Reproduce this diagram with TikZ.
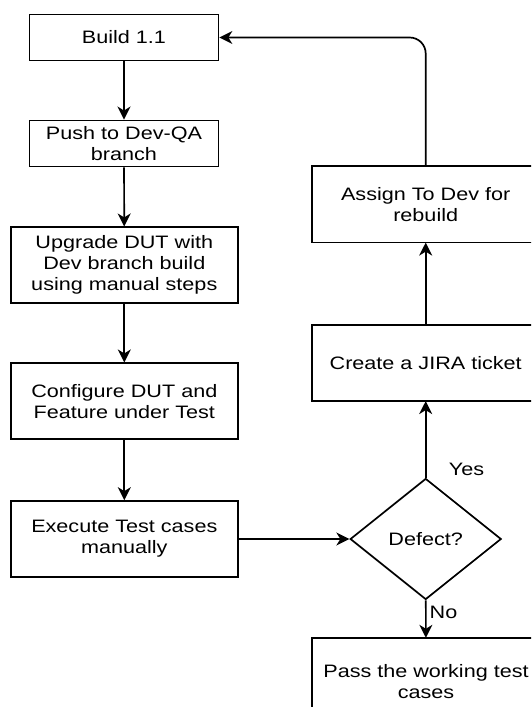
\documentclass[tikz,border=0pt]{standalone}
\usepackage{fontspec}
\setmainfont{Liberation Sans}[FakeStretch=1.2]
\usetikzlibrary{arrows.meta,shapes.geometric}

\begin{document}
\begin{tikzpicture}[x=1pt, y=-1pt,
        every node/.style={font=\fontsize{18}{21}\selectfont, align=center, inner sep=0pt},
        kasten/.style={draw, line width=1.7pt, minimum width=227pt, minimum height=76pt},
        kleinkasten/.style={kasten, minimum width=189pt, minimum height=46pt},
        offen/.style={minimum width=227pt, minimum height=76pt},
        rahmen/.style={draw, line width=1.7pt},
        raute/.style={draw, diamond, line width=1.7pt, minimum width=151pt, minimum height=121pt, aspect=1.25},
        pfeil/.style={line width=1.7pt, -{Stealth[length=13pt, width=13pt, inset=4pt]}}]
            \useasboundingbox (0,0) rectangle (531,707);
            \clip (0,0) rectangle (531,707);
            % Linke Spalte
            \node [kleinkasten] (build)     at (124, 37.5)  {Build 1.1};
            \node [kleinkasten] (push)      at (124, 143.4) {Push to Dev-QA\\branch};
            \node [kasten]      (upgrade)   at (124.3, 265.3) {Upgrade DUT with\\Dev branch build\\using manual steps};
            \node [kasten]      (configure) at (124.3, 401.3) {Configure DUT and\\Feature under Test};
            \node [kasten]      (execute)   at (124.3, 539)   {Execute Test cases\\manually};
            % Rechte Spalte (rechts abgeschnitten)
            \node [raute]  (defect) at (425.7, 539)   {Defect?};
            \node [offen]  (create) at (425.7, 362.9) {Create a JIRA ticket};
            \node [offen]  (assign) at (425.7, 204.4) {Assign To Dev for\\rebuild};
            \node [offen, minimum height=88pt] (pass) at (426, 682) {Pass the working test\\cases};
            \draw [rahmen] (create.south west) rectangle ([xshift=40pt]create.north east);
            \draw [rahmen] (assign.south west) rectangle ([xshift=40pt]assign.north east);
            \draw [rahmen] (pass.south west)   rectangle ([xshift=40pt]pass.north east);
            % Pfeile
            \draw [pfeil] (build)     -- (push);
            \draw [pfeil] (push)      -- (upgrade);
            \draw [pfeil] (upgrade)   -- (configure);
            \draw [pfeil] (configure) -- (execute);
            \draw [pfeil] (execute)   -- (defect);
            \draw [pfeil] (defect)    -- (create);
            \draw [pfeil] (create)    -- (assign);
            \draw [pfeil] (defect)    -- (pass);
            \draw [pfeil, rounded corners=16pt] (assign.north) |- (build.east);
            % Beschriftungen
            \node (yes) at (466.5, 469) {Yes};
            \node (no)  at (443.5, 612) {No};
        \end{tikzpicture}
\end{document}
